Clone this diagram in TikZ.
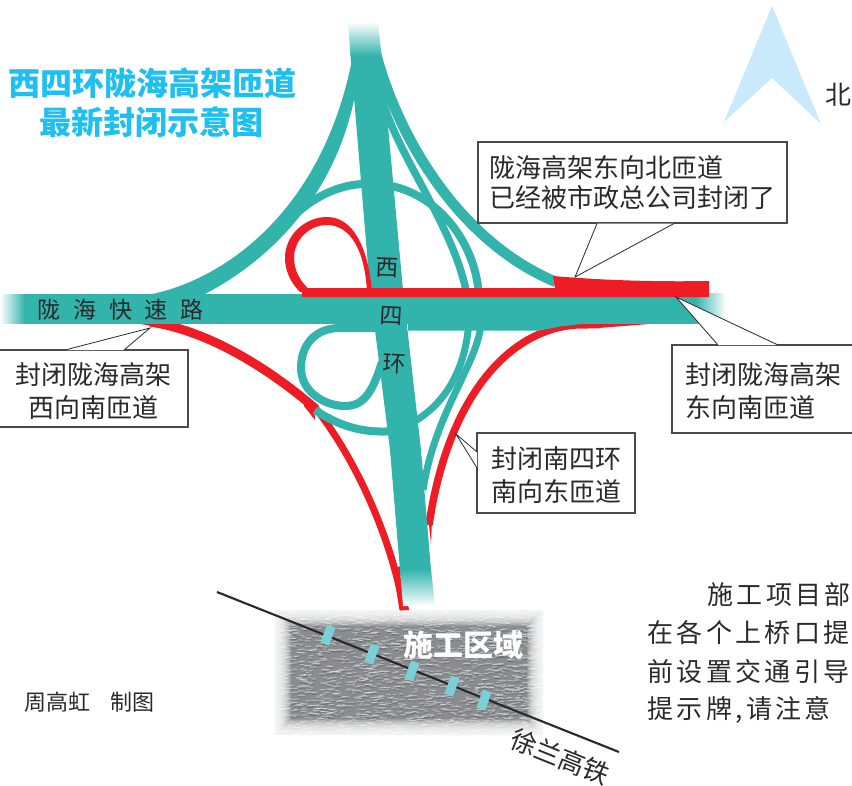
\documentclass[tikz,border=0pt]{standalone}
\usepackage{fontspec}
\setmainfont{Noto Sans CJK SC}
\newfontfamily\cjkroad[LetterSpace=56]{Noto Sans CJK SC}
\newfontfamily\cjkbody[LetterSpace=13]{Noto Sans CJK SC}
\definecolor{road}{HTML}{32B3AC}
\definecolor{closed}{HTML}{EE1C25}
\definecolor{titleblue}{HTML}{1FBFF2}
\definecolor{northblue}{HTML}{C8EAFA}
\definecolor{tie}{HTML}{7BCFD6}
\definecolor{ink}{HTML}{2A2A2C}
\definecolor{zone}{HTML}{8A8C90}
\newcommand{\firststrut}{\rule{0pt}{20pt}}
\tikzset{
  ramp/.style={draw=road,line width=#1*0.75pt},
  ramp/.default=7,
  shut/.style={draw=closed,line width=#1*0.75pt},
  shut/.default=7,
  calloutbox/.style={draw=ink!85,fill=white,line width=0.8pt,inner sep=0pt,text=ink,font=\fontsize{19.5}{24.75}\selectfont},
  pointer/.style={draw=ink,line width=0.6pt},
  labelroad/.style={text=ink,inner sep=0pt,font=\fontsize{17.25}{20}\selectfont},
  bodyline/.style={text=ink,inner sep=0pt,anchor=west,font=\fontsize{19.5}{24}\cjkbody},
  titletext/.style={text=titleblue,inner sep=0pt,font=\fontsize{24}{28}\selectfont\bfseries},
}
\begin{document}
\begin{tikzpicture}[x=0.75pt,y=-0.75pt]
\useasboundingbox (0,0) rectangle (852,785);
\fill[white] (0,0) rectangle (852,785);

% --- construction zone: grain, then a soft white edge
\begin{scope}
  \clip (275,610) rectangle (543,735);
  \fill[zone] (275,610) rectangle (543,735);
  \pgfmathsetseed{4711}
  \foreach \k in {1,...,1700}{
    \pgfmathsetmacro\xa{275+rnd*268}
    \pgfmathsetmacro\ya{610+rnd*125}
    \pgfmathsetmacro\ln{2.5+rnd*5}
    \pgfmathsetmacro\dy{rnd*1.6-0.8}
    \draw[white,opacity=0.38,line width=0.75pt,line cap=round] (\xa,\ya) -- (\xa+\ln,\ya+\dy);
    \draw[black!80,opacity=0.18,line width=0.75pt,line cap=round] (\xa+0.5,\ya+1.5) -- (\xa+\ln+0.5,\ya+\dy+1.5);
  }
\end{scope}
\foreach \i in {1,...,16}{
  \fill[white,opacity=0.15,even odd rule] (274,609) rectangle (544,736) (275+\i,610+\i) rectangle (543-\i,735-\i);
}

% --- rail line and ties
\coordinate (railA) at (217,592);
\coordinate (railB) at (619,752);
\draw[ink,line width=1.6pt] (railA) -- (railB);
\foreach \cx/\cy in {328/635,372/654,412/671,452/686,484/700}{
  \fill[tie,shift={(\cx,\cy)}] (-7.5,7.5) -- (-1,-10.5) -- (7.5,-7.5) -- (1,10.5) -- cycle;
}
\node[text=white,inner sep=0pt,font=\fontsize{22.5}{26}\selectfont\bfseries] (zonelabel) at (463,645) {施工区域};
\node[text=ink,inner sep=0pt,rotate=-22,font=\fontsize{19.5}{22}\selectfont] (raillabel) at (560,757) {徐兰高铁};

% --- closed ramps under the roads
\draw[shut=9] (150,322) .. controls (205,330) and (265,365) .. (316,409);
\fill[closed] (140,324) -- (160,323) -- (160,327) -- cycle;
\fill[closed] (306,396) -- (314,403) -- (315,420) -- (304,406) -- cycle;
\draw[shut=7] (313,405) .. controls (350,450) and (390,530) .. (404,610);
\fill[closed] (402,565) -- (409,610) -- (399.5,610) -- (393,570) -- cycle;
\draw[shut=7.5] (600,324.5) -- (575,325) .. controls (510,330) and (448,395) .. (429,525);
\fill[closed] (428,515) -- (432,520) -- (431,544) -- cycle;
\fill[closed] (662,323) -- (598,323) -- (598,328) -- cycle;

% --- teal ramps
\fill[road] (147,295) .. controls (215,283) and (320,220) .. (352,60) -- (358,60) -- (356,90) .. controls (338,190) and (275,258) .. (203,295) -- cycle;
\draw[ramp=10.5] (375,50) .. controls (395,130) and (455,240) .. (556,282);
\draw[ramp=7.5] (380,90) .. controls (392,150) and (455,225) .. (467,296);
\draw[ramp=8] (280,232) .. controls (305,198) and (340,184) .. (365,184) .. controls (430,180) and (478,240) .. (479,300);
\draw[ramp=8] (380,328) -- (340,328) .. controls (315,328) and (301,345) .. (301,368) .. controls (301,392) and (325,406) .. (345,406) .. controls (365,406) and (373,390) .. (382,362);
\draw[ramp=8] (315,410) .. controls (345,430) and (370,433) .. (395,431);
\draw[ramp=7] (410,424) .. controls (445,405) and (466,370) .. (469,320);
\draw[ramp=7] (481,320) .. controls (481,360) and (435,410) .. (423,490);
\fill[road] (408,323) -- (590,323) -- (560,326.5) -- (540,330.5) -- (408,330.5) -- cycle;

% --- main roads with faded ends
\fill[road] (350.5,55) -- (381.5,55) -- (403,290) -- (421,450) -- (431,570) -- (400,570) -- (390,450) -- (370,290) -- cycle;
\shade[top color=white,bottom color=road] (348,22) -- (378,22) -- (381.5,56) -- (350.5,56) -- cycle;
\shade[top color=road,bottom color=white] (400,569) -- (431,569) -- (435,606) -- (403,606) -- cycle;
\fill[road] (24,294) rectangle (696,323.5);
\shade[left color=white,right color=road] (0,294) rectangle (25,323.5);
\shade[left color=road,right color=white] (695,293) rectangle (726,323.5);

% --- closed bar and loop on top
\fill[closed] (300,292) .. controls (290,282) and (285,270) .. (285,258) .. controls (285,235) and (305,217) .. (327,217) .. controls (352,217) and (368,245) .. (372,292) -- (367,292) .. controls (365,250) and (350,225) .. (327,225) .. controls (309,225) and (294,240) .. (294,258) .. controls (294,270) and (300,282) .. (312,292) -- cycle;
\fill[closed] (302,288) -- (555,288) -- (553,276) .. controls (600,280) and (650,282) .. (709,281) -- (709,297) -- (302,297) -- cycle;

% --- road names
\node[anchor=west,labelroad,font=\fontsize{17.25}{20}\cjkroad] (roadname) at (37,310) {陇海快速路};
\node[labelroad,rotate=-2] (ringA) at (387,268) {西};
\node[labelroad,rotate=-3] (ringB) at (391,316) {四};
\node[labelroad,rotate=-3] (ringC) at (394,364) {环};

% --- title, north arrow, credit
\node[titletext] (titleA) at (152,83) {西四环陇海高架匝道};
\node[titletext] (titleB) at (151,122) {最新封闭示意图};
\fill[northblue] (772,6) -- (821,124) -- (772,78) -- (724,122) -- cycle;
\node[text=ink,inner sep=0pt,font=\fontsize{19.5}{22}\selectfont] (north) at (838,95) {北};
\node[text=ink,inner sep=0pt,anchor=west,font=\fontsize{16.5}{20}\selectfont] (credit) at (24,702) {周高虹\hspace{15pt}制图};

% --- callouts
\node[calloutbox,minimum width=231.75pt,minimum height=60.75pt,align=left,font=\fontsize{19.5}{22.5}\selectfont] (boxA) at (632.5,182.5) {陇海高架东向北匝道\\已经被市政总公司封闭了};
\coordinate (tipA) at (575,277);
\coordinate (baseA1) at (597,182.5 |- boxA.south);
\coordinate (baseA2) at (674,182.5 |- boxA.south);
\fill[white] (baseA1) -- (tipA) -- (baseA2) -- cycle;
\draw[pointer] (baseA1) -- (tipA) -- (baseA2);

\node[calloutbox,minimum width=142.5pt,minimum height=57.75pt,align=center] (boxB) at (93,388.5) {\firststrut 封闭陇海高架\\西向南匝道};
\coordinate (tipB) at (150,328);
\coordinate (baseB1) at (65,350);
\coordinate (baseB2) at (124,350);
\fill[white] (baseB1) -- (tipB) -- (baseB2) -- cycle;
\draw[pointer] (baseB1) -- (tipB) -- (baseB2);

\node[calloutbox,minimum width=136.5pt,minimum height=66pt,align=left] (boxC) at (763,389) {\firststrut 封闭陇海高架\\东向南匝道};
\coordinate (tipC) at (676,297);
\coordinate (baseC1) at (718,345);
\coordinate (baseC2) at (778,345);
\fill[white] (baseC1) -- (tipC) -- (baseC2) -- cycle;
\draw[pointer] (baseC1) -- (tipC) -- (baseC2);

\node[calloutbox,minimum width=118.5pt,minimum height=60pt,align=center] (boxD) at (556,473) {\firststrut 封闭南四环\\南向东匝道};
\coordinate (tipD) at (456,434);
\coordinate (baseD1) at (477,452);
\coordinate (baseD2) at (477,468);
\fill[white] (baseD1) -- (tipD) -- (baseD2) -- cycle;
\draw[pointer] (baseD1) -- (tipD) -- (baseD2);

% --- article text running off the page
\node[bodyline] (bodyA) at (707,595) {施工项目部};
\node[bodyline] (bodyB) at (647,633) {在各个上桥口提};
\node[bodyline] (bodyC) at (647,672) {前设置交通引导};
\node[bodyline] (bodyD) at (647,710) {提示牌,请注意};
\end{tikzpicture}
\end{document}
